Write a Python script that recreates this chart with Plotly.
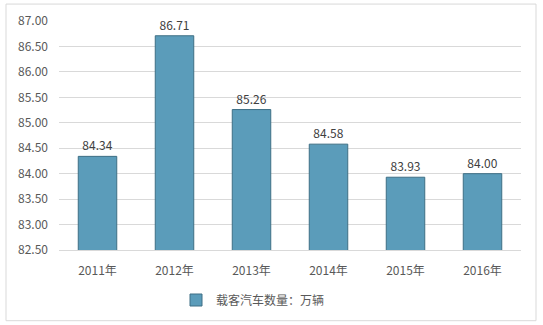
import plotly.graph_objects as go

categories = ["2011年", "2012年", "2013年", "2014年", "2015年", "2016年"]
values = [84.34, 86.71, 85.26, 84.58, 83.93, 84.00]
series_name = "载客汽车数量：万辆"
tick_vals = [82.5, 83.0, 83.5, 84.0, 84.5, 85.0, 85.5, 86.0, 86.5, 87.0]

L, R, T, B = 59, 22, 21, 74
W, H = 543, 325
pw, ph = W - L - R, H - T - B

fig = go.Figure()
fig.add_trace(go.Bar(
    x=categories, y=values, name=series_name,
    marker=dict(color="#5b9cba", line=dict(color="#3e6f85", width=1)),
    text=[f"{v:.2f}" for v in values], textposition="outside",
    textfont=dict(size=12, color="#404040"), cliponaxis=False,
))

fig.update_layout(
    width=W, height=H,
    margin=dict(l=L, r=R, t=T, b=B),
    paper_bgcolor="white", plot_bgcolor="white",
    font=dict(family="Noto Sans CJK SC, Liberation Sans, sans-serif", size=12, color="#595959"),
    bargap=0.5,
    showlegend=True,
    legend=dict(orientation="h", x=(176 - L) / pw, xanchor="left",
                y=(H - B - 300) / ph, yanchor="middle",
                font=dict(size=12, color="#595959"), itemwidth=30),
    xaxis=dict(showgrid=False, showline=True, linecolor="#d9d9d9", ticks="",
               ticklabelstandoff=10,
               tickfont=dict(size=12, color="#595959")),
    yaxis=dict(range=[82.5, 87.0], tickvals=tick_vals, tickformat=".2f",
               showgrid=True, gridcolor="#d9d9d9", zeroline=False, showline=False,
               ticks="", ticklen=0, ticklabelstandoff=10,
               tickfont=dict(size=12, color="#595959")),
    shapes=[dict(type="rect", xref="paper", yref="paper",
                 x0=(6 - L) / pw, x1=(536 - L) / pw,
                 y0=(H - B - 322) / ph, y1=(H - B - 4) / ph,
                 line=dict(color="#d9d9d9", width=1), fillcolor="rgba(0,0,0,0)", layer="below")],
)

fig.write_html("out.html")
